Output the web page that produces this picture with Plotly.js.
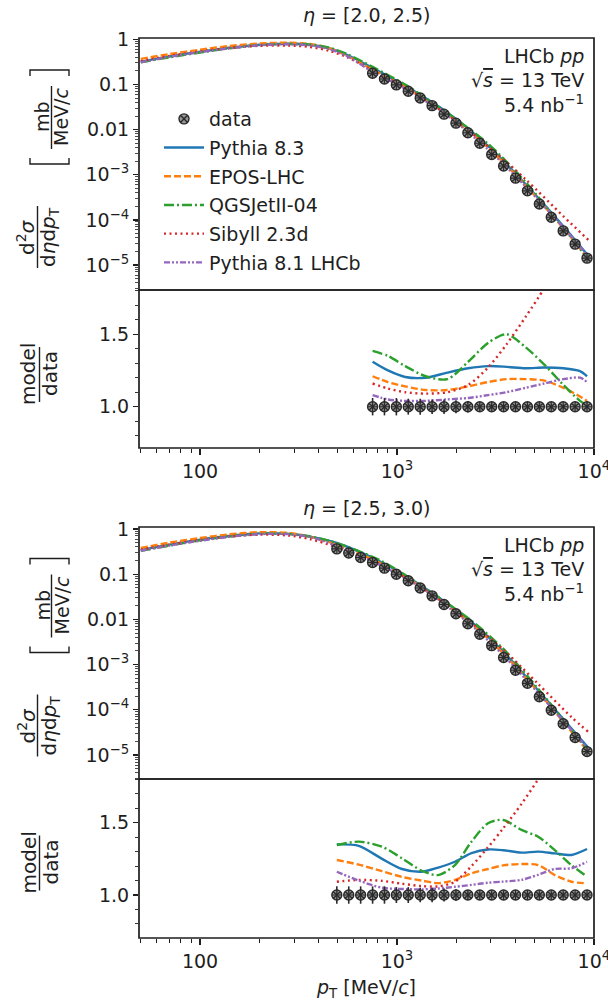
<!DOCTYPE html>
<html><head><meta charset="utf-8">
<script src="https://cdn.plot.ly/plotly-3.0.1.min.js"></script>
<style>body{margin:0;padding:0;background:#fff}</style>
</head><body><div id="chart" style="width:608px;height:1006px"></div>
<script>
// ---------------- data ----------------
const panelTitles = ['<i>η</i> = [2.0, 2.5)', '<i>η</i> = [2.5, 3.0)'];
const modelNames = ['Pythia 8.3', 'EPOS-LHC', 'QGSJetII-04', 'Sibyll 2.3d', 'Pythia 8.1 LHCb'];
const xTickVals = [100, 1000, 10000];
const xTickText = ['100', '10<sup>3</sup>', '10<sup>4</sup>'];
const yTickVals = [1, 0.1, 0.01, 0.001, 0.0001, 0.00001];
const yTickText = ['1', '0.1', '0.01', '10<sup>−3</sup>', '10<sup>−4</sup>', '10<sup>−5</sup>'];
const rTickVals = [1.0, 1.5];
const rTickText = ['1.0', '1.5'];
const shadeEnd = [530, 325];

// eta 2.0-2.5
const ptData1 = [752, 864, 993, 1141, 1312, 1508, 1734, 1993, 2291, 2633, 3027, 3479, 3999, 4598, 5284, 6074, 6982, 8028, 9226];
const xsData1 = [0.177, 0.132, 0.098, 0.071, 0.050, 0.034, 0.022, 0.0139, 0.0085, 0.0050, 0.0028, 0.00156, 8.4e-4, 4.4e-4, 2.25e-4, 1.14e-4, 5.7e-5, 2.9e-5, 1.42e-5];
const ratioData1 = [1,1,1,1,1,1,1,1,1,1,1,1,1,1,1,1,1,1,1];
const ratioErr1 = [0.06,0.06,0.06,0.055,0.055,0.05,0.05,0.045,0.04,0.03,0.025,0.02,0.02,0.02,0.02,0.02,0.02,0.02,0.025];
const ptModel1 = [50, 70, 100, 140, 200, 280, 360, 450, 560, 752, 1100, 1800, 2900, 4500, 7000, 9500];
const pythia83_1 = [0.32, 0.42, 0.53, 0.65, 0.76, 0.80, 0.76, 0.64, 0.45, 0.232, 0.0938, 0.0241, 0.00434, 6.17e-4, 7.22e-5, 1.48e-5];
const epos_1     = [0.37, 0.47, 0.59, 0.71, 0.81, 0.84, 0.79, 0.64, 0.43, 0.214, 0.0887, 0.0217, 0.00397, 5.81e-4, 6.45e-5, 1.27e-5];
const qgsjet_1   = [0.31, 0.40, 0.51, 0.63, 0.74, 0.79, 0.77, 0.66, 0.47, 0.245, 0.0996, 0.0234, 0.00488, 6.88e-4, 6.57e-5, 1.24e-5];
const sibyll_1   = [0.33, 0.43, 0.54, 0.64, 0.72, 0.73, 0.68, 0.56, 0.40, 0.205, 0.0856, 0.0215, 0.00431, 7.9e-4, 1.2e-4, 3.4e-5];
const pythia81_1 = [0.31, 0.41, 0.52, 0.63, 0.74, 0.78, 0.74, 0.61, 0.42, 0.191, 0.0809, 0.0205, 0.00366, 5.51e-4, 6.8e-5, 1.43e-5];
const ptRatio1 = [752, 900, 1100, 1400, 1800, 2300, 2900, 3600, 4500, 5600, 7000, 8500, 9230];
const rPythia83_1 = [1.31, 1.25, 1.205, 1.20, 1.235, 1.265, 1.28, 1.275, 1.265, 1.27, 1.265, 1.245, 1.21];
const rEpos_1     = [1.21, 1.17, 1.14, 1.115, 1.115, 1.14, 1.17, 1.19, 1.19, 1.18, 1.13, 1.07, 1.04];
const rQgsjet_1   = [1.385, 1.35, 1.28, 1.21, 1.19, 1.31, 1.44, 1.50, 1.41, 1.29, 1.15, 1.04, 1.01];
const rSibyll_1   = [1.16, 1.125, 1.10, 1.09, 1.10, 1.15, 1.27, 1.43, 1.62, 1.82, 2.1, 2.5, 2.7];
const rPythia81_1 = [1.08, 1.05, 1.04, 1.04, 1.05, 1.06, 1.08, 1.10, 1.13, 1.16, 1.19, 1.20, 1.17];

// eta 2.5-3.0
const ptData2 = [495, 569, 654, 752, 864, 993, 1141, 1312, 1508, 1734, 1993, 2291, 2633, 3027, 3479, 3999, 4598, 5284, 6074, 6982, 8028, 9226];
const xsData2 = [0.363, 0.295, 0.234, 0.182, 0.136, 0.100, 0.0716, 0.0495, 0.0331, 0.0214, 0.0133, 0.0080, 0.0047, 0.00263, 0.00143, 7.5e-4, 3.85e-4, 1.95e-4, 9.8e-5, 4.9e-5, 2.43e-5, 1.19e-5];
const ratioData2 = [1,1,1,1,1,1,1,1,1,1,1,1,1,1,1,1,1,1,1,1,1,1];
const ratioErr2 = [0.06,0.06,0.06,0.06,0.06,0.055,0.055,0.05,0.05,0.045,0.04,0.03,0.025,0.02,0.02,0.02,0.02,0.02,0.02,0.02,0.02,0.025];
const ptModel2 = [50, 70, 100, 140, 200, 280, 360, 495, 840, 1335, 2390, 3460, 5210, 7690, 9400];
const pythia83_2 = [0.34, 0.45, 0.58, 0.70, 0.80, 0.78, 0.68, 0.49, 0.181, 0.0549, 0.00882, 0.00194, 2.7e-4, 3.83e-5, 1.42e-5];
const epos_2     = [0.38, 0.50, 0.63, 0.76, 0.85, 0.82, 0.68, 0.451, 0.169, 0.052, 0.00787, 0.00178, 2.51e-4, 3.28e-5, 1.17e-5];
const qgsjet_2   = [0.33, 0.43, 0.56, 0.68, 0.78, 0.78, 0.69, 0.489, 0.193, 0.0552, 0.00936, 0.00225, 2.92e-4, 3.62e-5, 1.21e-5];
const sibyll_2   = [0.35, 0.45, 0.57, 0.68, 0.75, 0.72, 0.60, 0.396, 0.159, 0.0502, 0.00821, 0.00216, 3.74e-4, 6.9e-5, 3.2e-5];
const pythia81_2 = [0.33, 0.43, 0.55, 0.67, 0.77, 0.77, 0.67, 0.421, 0.152, 0.0491, 0.00732, 0.00162, 2.37e-4, 3.56e-5, 1.33e-5];
const ptRatio2 = [495, 640, 840, 1060, 1335, 1620, 1970, 2390, 2900, 3460, 4290, 5210, 6330, 7690, 9230];
const rPythia83_2 = [1.35, 1.34, 1.25, 1.18, 1.161, 1.19, 1.23, 1.29, 1.315, 1.31, 1.293, 1.30, 1.288, 1.277, 1.318];
const rEpos_2     = [1.242, 1.21, 1.165, 1.125, 1.10, 1.082, 1.104, 1.15, 1.18, 1.205, 1.214, 1.207, 1.138, 1.092, 1.081];
const rQgsjet_2   = [1.346, 1.369, 1.334, 1.254, 1.168, 1.138, 1.207, 1.369, 1.496, 1.519, 1.45, 1.403, 1.311, 1.207, 1.127];
const rSibyll_2   = [1.092, 1.104, 1.098, 1.078, 1.062, 1.06, 1.092, 1.20, 1.33, 1.46, 1.63, 1.80, 2.0, 2.3, 2.6];
const rPythia81_2 = [1.161, 1.10, 1.05, 1.042, 1.039, 1.045, 1.057, 1.07, 1.085, 1.093, 1.105, 1.14, 1.18, 1.185, 1.23];

// ---------------- styling / layout ----------------
const W = 608, H = 1006;
const px = v => v / W;
const py = v => 1 - v / H;
const FONT = 'DejaVu Sans, Liberation Sans, sans-serif';
const INK = '#1e1e1e';
const colors = ['#1f77b4', '#ff7f0e', '#2ca02c', '#d62728', '#9467bd'];
const dashes = ['solid', '7px,3px', '10px,3px,2px,3px', '2px,3.5px', '6px,2px,2px,2px,2px,2px'];
const plotL = 139, plotR = 594;
const OFF = 488.5;
// panel pixel boxes: [mainTop, split, ratioBottom]
const boxes = [[38, 290, 448], [38 + 489, 290 + 489, 448 + 490]];

const minorX = [];
[10, 100, 1000].forEach(d => { for (let k = 2; k <= 9; k++) minorX.push(k * d); });
const minorY = [];
for (let e = -6; e <= 0; e++) { for (let k = 2; k <= 9; k++) minorY.push(k * Math.pow(10, e)); }

const panels = [
  {pt: ptData1, xs: xsData1, rd: ratioData1, re: ratioErr1, ptm: ptModel1, models: [pythia83_1, epos_1, qgsjet_1, sibyll_1, pythia81_1], ptr: ptRatio1, ratios: [rPythia83_1, rEpos_1, rQgsjet_1, rSibyll_1, rPythia81_1]},
  {pt: ptData2, xs: xsData2, rd: ratioData2, re: ratioErr2, ptm: ptModel2, models: [pythia83_2, epos_2, qgsjet_2, sibyll_2, pythia81_2], ptr: ptRatio2, ratios: [rPythia83_2, rEpos_2, rQgsjet_2, rSibyll_2, rPythia81_2]}
];

const traces = [];
const dataMarker = {symbol: 'circle-x', size: 10, color: 'rgba(125,125,125,0.8)', line: {color: '#2a2a2a', width: 1.4}};
const crossMarker = {symbol: 'cross-thin-open', size: 7, color: '#2a2a2a', line: {color: '#2a2a2a', width: 1.1}};
panels.forEach((p, i) => {
  const xa = i === 0 ? 'x' : 'x2';
  const yMain = i === 0 ? 'y' : 'y3';
  const yRat = i === 0 ? 'y2' : 'y4';
  for (let m = 0; m < 5; m++) {
    traces.push({x: p.ptm, y: p.models[m], xaxis: xa, yaxis: yMain, mode: 'lines', name: modelNames[m],
      legendgroup: 'g' + m, legendrank: m + 2, showlegend: i === 0,
      line: {color: colors[m], width: 2.4, dash: dashes[m], shape: 'spline', smoothing: 0.8}});
  }
  traces.push({x: p.pt, y: p.xs, xaxis: xa, yaxis: yMain, mode: 'markers', name: 'data', legendgroup: 'gd', legendrank: 1,
    showlegend: i === 0, marker: dataMarker});
  traces.push({x: p.pt, y: p.xs, xaxis: xa, yaxis: yMain, mode: 'markers', showlegend: false, hoverinfo: 'skip', marker: crossMarker});
  for (let m = 0; m < 5; m++) {
    traces.push({x: p.ptr, y: p.ratios[m], xaxis: xa, yaxis: yRat, mode: 'lines', showlegend: false,
      line: {color: colors[m], width: 2.4, dash: dashes[m], shape: 'spline', smoothing: 0.8}});
  }
  traces.push({x: p.pt, y: p.rd, xaxis: xa, yaxis: yRat, mode: 'markers', showlegend: false,
    error_y: {type: 'data', array: p.re, visible: true, color: '#2a2a2a', thickness: 1.6, width: 0},
    marker: dataMarker});
  traces.push({x: p.pt, y: p.rd, xaxis: xa, yaxis: yRat, mode: 'markers', showlegend: false, hoverinfo: 'skip', marker: crossMarker});
});

const tickFont = {family: FONT, size: 19, color: INK};
function xAxis(anchor) {
  return {type: 'log', range: [1.69, 4.0005], domain: [px(plotL), px(plotR)], anchor: anchor,
    tickvals: xTickVals, ticktext: xTickText, ticks: 'outside', ticklen: 6, tickwidth: 1.3, tickcolor: INK,
    ticklabeloverflow: 'allow',
    minor: {tickvals: minorX, ticks: 'outside', ticklen: 3.5, tickwidth: 1, tickcolor: INK},
    showgrid: false, zeroline: false, showline: false, tickfont: tickFont};
}
function yLog(anchor, top, bottom, range) {
  return {type: 'log', range: range, domain: [py(bottom), py(top)], anchor: anchor,
    tickvals: yTickVals, ticktext: yTickText, ticks: 'outside', ticklen: 5, tickwidth: 1.3, tickcolor: INK,
    ticklabeloverflow: 'allow',
    minor: {tickvals: minorY, ticks: 'outside', ticklen: 3, tickwidth: 0.8, tickcolor: INK},
    showgrid: false, zeroline: false, showline: false, tickfont: tickFont};
}
function yRatio(anchor, top, bottom, range) {
  return {range: range, domain: [py(bottom), py(top)], anchor: anchor,
    tickvals: rTickVals, ticktext: rTickText, ticks: 'outside', ticklen: 5, tickwidth: 1.3, tickcolor: INK,
    minor: {dtick: 0.1, ticks: 'outside', ticklen: 3, tickwidth: 0.9, tickcolor: INK},
    showgrid: false, zeroline: false, showline: false, tickfont: tickFont};
}

const shapes = [];
const annotations = [];
boxes.forEach((b, i) => {
  const xa = i === 0 ? 'x' : 'x2';
  shapes.push({type: 'rect', xref: xa, yref: 'paper', x0: 1.6, x1: Math.log10(shadeEnd[i]), y0: py(b[2]), y1: py(b[0]),
    fillcolor: '#f1f1f1', line: {width: 0}, layer: 'below'});
  shapes.push({type: 'rect', xref: 'paper', yref: 'paper', x0: px(plotL), x1: px(plotR), y0: py(b[1]), y1: py(b[0]),
    line: {color: INK, width: 1.7}, layer: 'above'});
  shapes.push({type: 'rect', xref: 'paper', yref: 'paper', x0: px(plotL), x1: px(plotR), y0: py(b[2]), y1: py(b[1]),
    line: {color: INK, width: 1.7}, layer: 'above'});
  const o = i === 0 ? 0 : OFF;
  const txt = (text, x, y, size, extra) => Object.assign({text: text, xref: 'paper', yref: 'paper', x: px(x), y: py(y + o),
    showarrow: false, font: {family: FONT, size: size, color: INK}, xanchor: 'center', yanchor: 'middle'}, extra || {});
  // panel title
  annotations.push(txt(panelTitles[i], 366, i === 0 ? 15 : 19, 19));
  // LHCb labels
  annotations.push(txt('LHCb <i>pp</i>', 586, 56, 19, {xanchor: 'right'}));
  annotations.push(txt('√<span style="text-decoration:overline"><i>s</i></span> = 13 TeV', 586, 80, 19, {xanchor: 'right'}));
  annotations.push(txt('5.4 nb<sup>−1</sup>', 586, 104, 19, {xanchor: 'right'}));
  // main y title (rotated fraction)
  annotations.push(txt('d<sup>2</sup><i>σ</i>', 26, 237, 20, {textangle: -90}));
  annotations.push(txt('d<i>η</i>d<i>p</i><sub>T</sub>', 49, 237, 20, {textangle: -90}));
  shapes.push({type: 'line', xref: 'paper', yref: 'paper', x0: px(37.5), x1: px(37.5), y0: py(206 + o), y1: py(268 + o), line: {color: INK, width: 1.4}});
  annotations.push(txt('mb', 42, 117, 19, {textangle: -90}));
  annotations.push(txt('MeV/<i>c</i>', 61, 117, 19, {textangle: -90}));
  shapes.push({type: 'line', xref: 'paper', yref: 'paper', x0: px(51.5), x1: px(51.5), y0: py(86 + o), y1: py(149 + o), line: {color: INK, width: 1.4}});
  // brackets
  shapes.push({type: 'path', xref: 'paper', yref: 'paper', line: {color: INK, width: 1.4},
    path: `M ${px(30)} ${py(158 + o)} L ${px(30)} ${py(164 + o)} L ${px(69)} ${py(164 + o)} L ${px(69)} ${py(158 + o)}`});
  shapes.push({type: 'path', xref: 'paper', yref: 'paper', line: {color: INK, width: 1.4},
    path: `M ${px(30)} ${py(76 + o)} L ${px(30)} ${py(70 + o)} L ${px(69)} ${py(70 + o)} L ${px(69)} ${py(76 + o)}`});
  // ratio y title
  annotations.push(txt('model', 28, 374, 20, {textangle: -90}));
  annotations.push(txt('data', 50, 374, 20, {textangle: -90}));
  shapes.push({type: 'line', xref: 'paper', yref: 'paper', x0: px(39.5), x1: px(39.5), y0: py(347 + o), y1: py(402 + o), line: {color: INK, width: 1.4}});
});
annotations.push({text: '<i>p</i><sub>T</sub> [MeV/<i>c</i>]', xref: 'paper', yref: 'paper', x: px(366), y: py(988),
  showarrow: false, font: {family: FONT, size: 19, color: INK}, xanchor: 'center', yanchor: 'middle'});

const layout = {
  width: W, height: H, margin: {l: 0, r: 0, t: 0, b: 0},
  paper_bgcolor: '#ffffff', plot_bgcolor: 'rgba(0,0,0,0)',
  font: {family: FONT, size: 19, color: INK},
  showlegend: true,
  legend: {x: px(159), y: py(100), xanchor: 'left', yanchor: 'top', bgcolor: 'rgba(0,0,0,0)',
    font: {family: FONT, size: 19, color: INK}, itemwidth: 40, traceorder: 'grouped', tracegroupgap: 1},
  xaxis: xAxis('y2'),
  xaxis2: xAxis('y4'),
  yaxis: yLog('x', boxes[0][0], boxes[0][1], [-5.554, 0.03]),
  yaxis2: yRatio('x', boxes[0][1], boxes[0][2], [0.715, 1.805]),
  yaxis3: yLog('x2', boxes[1][0], boxes[1][1], [-5.531, 0.044]),
  yaxis4: yRatio('x2', boxes[1][1], boxes[1][2], [0.703, 1.802]),
  shapes: shapes,
  annotations: annotations
};

Plotly.newPlot('chart', traces, layout, {displayModeBar: false, staticPlot: true});
</script></body></html>
